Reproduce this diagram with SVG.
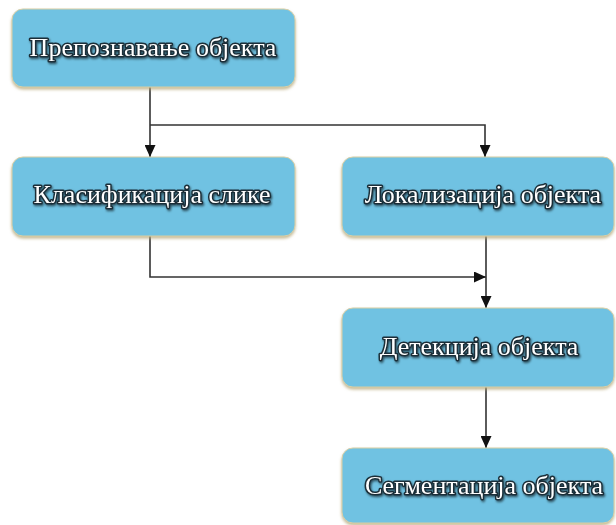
<svg xmlns="http://www.w3.org/2000/svg" width="616" height="525" viewBox="0 0 616 525">
<style>
.box{fill:#6fc2e2;stroke:#d9cfa6;stroke-width:1}
.lbl{font-family:"Liberation Serif","Times New Roman",serif;font-size:26px;fill:#ffffff;stroke:#1a2e38;stroke-width:3px;paint-order:stroke;stroke-linejoin:round;text-anchor:middle;filter:url(#ts)}
.con{fill:none;stroke:#333;stroke-width:1.6}
</style>
<defs>
<filter id="bs" x="-10%" y="-10%" width="120%" height="130%">
<feDropShadow dx="0" dy="2" stdDeviation="1.5" flood-color="#b8a878" flood-opacity="0.8"/>
</filter>
<filter id="ts" x="-5%" y="-20%" width="110%" height="150%">
<feDropShadow dx="1" dy="1.5" stdDeviation="0.8" flood-color="#000" flood-opacity="0.6"/>
</filter>
<marker id="ar" viewBox="0 0 12 10" refX="12" refY="5" markerWidth="12" markerHeight="11" orient="auto" markerUnits="userSpaceOnUse" preserveAspectRatio="none">
<path d="M0,0 L12,5 L0,10 z" fill="#111"/>
</marker>
</defs>
<rect width="616" height="525" fill="#ffffff"/>
<g id="connectors">
<path class="con" d="M150,87 V157" marker-end="url(#ar)"/>
<path class="con" d="M150,125 H485 V157" marker-end="url(#ar)"/>
<path class="con" d="M150,236 V277 H486" marker-end="url(#ar)"/>
<path class="con" d="M486,236 V308" marker-end="url(#ar)"/>
<path class="con" d="M486,387 V448" marker-end="url(#ar)"/>
</g>
<g id="n1"><rect class="box" x="12" y="9" width="283" height="78" rx="11" filter="url(#bs)"/><text class="lbl" x="153" y="56">Препознавање објекта</text></g>
<g id="n2"><rect class="box" x="12" y="157" width="283" height="79" rx="11" filter="url(#bs)"/><text class="lbl" x="152" y="203">Класификација слике</text></g>
<g id="n3"><rect class="box" x="342" y="157" width="272" height="79" rx="11" filter="url(#bs)"/><text class="lbl" x="483" y="203">Локализација објекта</text></g>
<g id="n4"><rect class="box" x="342" y="308" width="272" height="79" rx="11" filter="url(#bs)"/><text class="lbl" x="479" y="355">Детекција објекта</text></g>
<g id="n5"><rect class="box" x="342" y="448" width="272" height="75" rx="11" filter="url(#bs)"/><text class="lbl" x="484" y="494">Сегментација објекта</text></g>
</svg>
